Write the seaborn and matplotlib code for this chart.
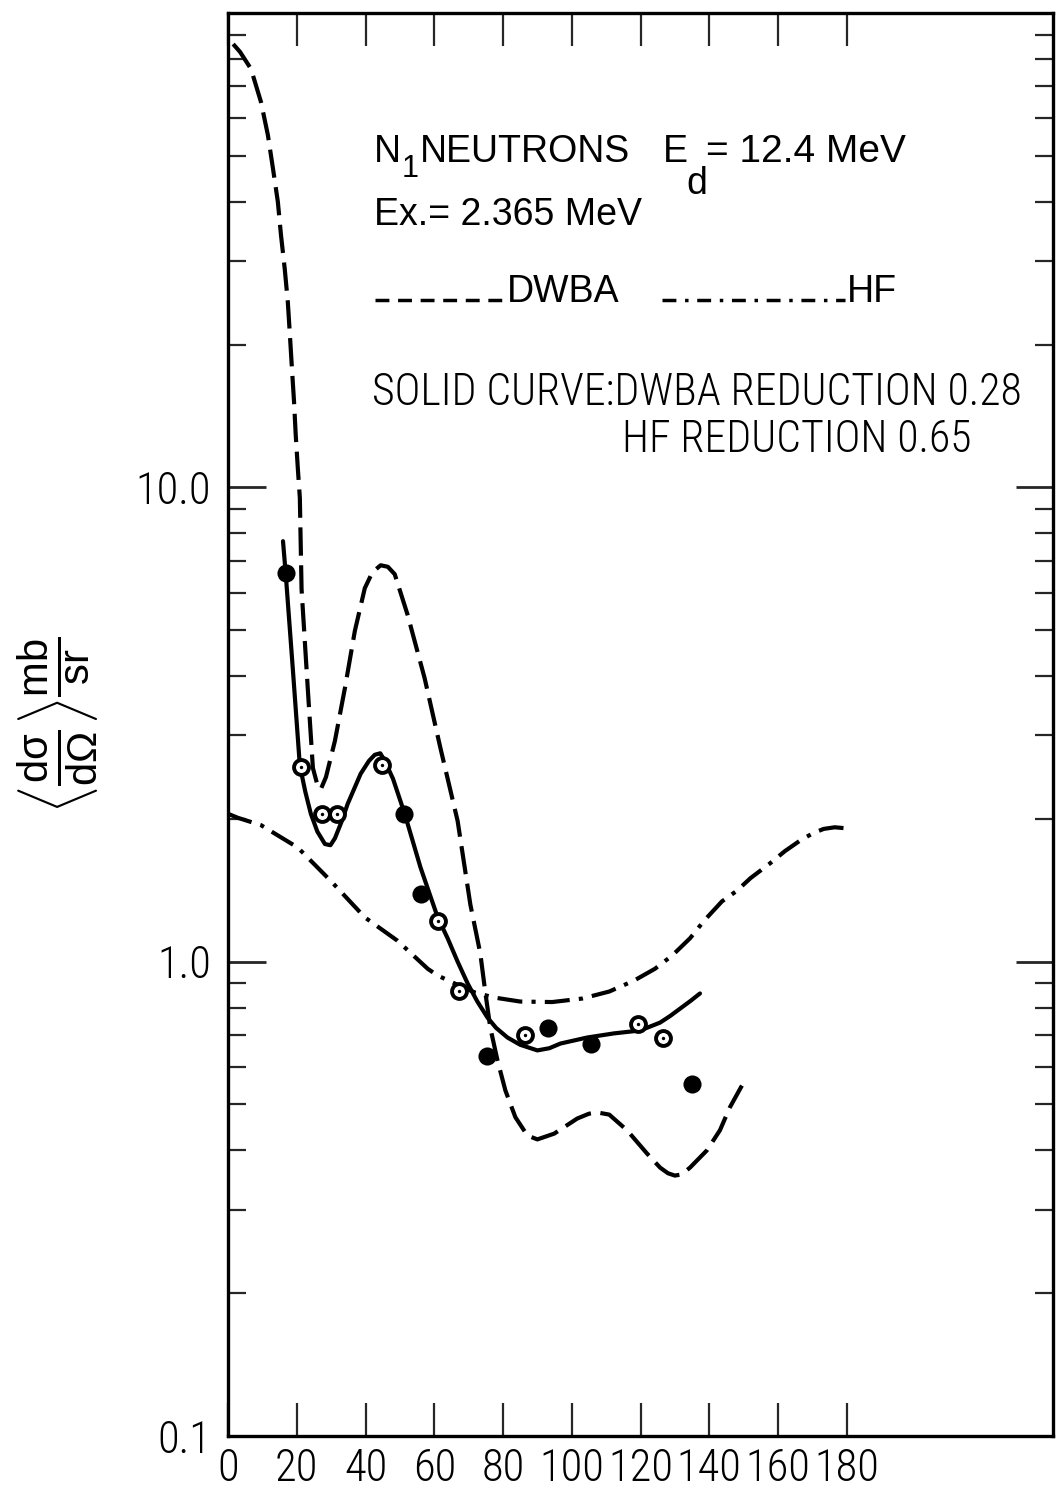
import numpy as np
import pandas as pd
import matplotlib
matplotlib.use("Agg")
import matplotlib.pyplot as plt
from matplotlib.lines import Line2D
from matplotlib.ticker import LogLocator, NullFormatter
from matplotlib import font_manager as fm
import seaborn as sns

# ---------------- data ----------------
dwba_angle = [1.5, 3.5, 6.7, 9.6, 11.6, 13.1, 14.5, 15.4, 16.5, 17.4, 18.0, 18.6,
              19.2, 19.7, 20.3, 20.9, 21.4, 23.2, 24.7, 26.0, 27.0, 28.5, 31.1,
              34.0, 36.9, 39.8, 42.0, 44.4, 46.5, 48.5, 52.2, 57.2, 61.8, 66.8,
              70.5, 73.4, 74.9, 76.3, 78.4, 80.7, 83.6, 87.1, 90.0, 94.9, 101.6,
              105.0, 107.4, 110.9, 116.1, 121.9, 125.7, 128.0, 130.0, 132.0, 134.4,
              139.3, 143.1, 146.0, 149.5]
dwba_value = [86.0, 82.8, 76.2, 64.9, 55.3, 46.9, 40.0, 34.1, 28.9, 24.6, 21.0, 17.8,
              15.2, 12.9, 11.0, 9.5, 6.1, 3.77, 2.56, 2.36, 2.31, 2.45, 2.92,
              3.77, 4.98, 6.13, 6.62, 6.85, 6.80, 6.56, 5.40, 3.96, 2.82, 1.98,
              1.32, 1.04, 0.857, 0.726, 0.619, 0.535, 0.470, 0.430, 0.422, 0.434,
              0.467, 0.478, 0.481, 0.476, 0.441, 0.394, 0.368, 0.358, 0.354, 0.356,
              0.368, 0.400, 0.441, 0.493, 0.548]

hf_angle = [0.0, 2.9, 9.6, 20.3, 29.9, 39.8, 49.3, 58.1, 61.0, 67.3, 72.0, 77.5,
            85.0, 94.3, 103.0, 110.9, 118.1, 124.2, 129.2, 134.4, 138.5, 143.7,
            148.0, 152.0, 157.6, 162.0, 166.9, 170.5, 173.3, 176.5, 180.0]
hf_value = [2.05, 2.01, 1.94, 1.74, 1.48, 1.24, 1.107, 0.966, 0.935, 0.89, 0.86,
            0.84, 0.824, 0.822, 0.836, 0.865, 0.912, 0.966, 1.03, 1.12, 1.22, 1.34,
            1.41, 1.50, 1.61, 1.71, 1.81, 1.87, 1.905, 1.92, 1.91]

fit_angle = [16.0, 16.8, 18.9, 20.9, 22.5, 24.1, 26.0, 28.2, 29.8, 31.1, 33.0,
             34.8, 38.6, 41.0, 42.7, 44.3, 45.6, 48.0, 51.4, 56.0, 61.0, 63.9,
             66.8, 69.7, 72.5, 75.5, 78.0, 81.3, 85.0, 90.0, 93.5, 96.7, 104.5,
             112.3, 119.9, 125.7, 128.6, 131.5, 134.5, 137.3]
fit_value = [7.70, 6.56, 4.10, 2.59, 2.28, 2.05, 1.88, 1.77, 1.76, 1.82, 1.97,
             2.15, 2.49, 2.65, 2.73, 2.75, 2.65, 2.43, 2.05, 1.58, 1.24, 1.12,
             1.00, 0.90, 0.825, 0.762, 0.725, 0.692, 0.668, 0.65, 0.657, 0.672, 0.692,
             0.706, 0.716, 0.744, 0.768, 0.796, 0.826, 0.857]

filled_angle = [16.8, 51.1, 56.0, 75.2, 93.2, 105.7, 135.0]
filled_value = [6.59, 2.05, 1.39, 0.634, 0.723, 0.672, 0.553]

open_angle = [21.2, 27.3, 31.6, 44.7, 61.0, 67.3, 86.5, 119.3, 126.6]
open_value = [2.57, 2.05, 2.05, 2.60, 1.22, 0.869, 0.699, 0.740, 0.692]

x_ticks = [0, 20, 40, 60, 80, 100, 120, 140, 160, 180]
x_tick_labels = ["0", "20", "40", "60", "80", "100", "120", "140", "160", "180"]
y_ticks = [0.1, 1.0, 10.0, 100.0]
y_tick_labels = ["0.1", "1.0", "10.0", ""]

# ---------------- style ----------------
sns.set_theme(style="ticks")
REG = ["Liberation Sans", "DejaVu Sans"]
plt.rcParams["font.family"] = REG
plt.rcParams["mathtext.fontset"] = "custom"
plt.rcParams["mathtext.rm"] = "Liberation Sans"
plt.rcParams["mathtext.it"] = "Liberation Sans"
plt.rcParams["mathtext.sf"] = "Liberation Sans"


def pick_condensed():
    cands = [("Liberation Sans Narrow", "normal"), ("Roboto Condensed", "normal"),
             ("Noto Sans", "condensed"), ("Open Sans", "condensed"),
             ("DejaVu Sans", "condensed"), ("Noto Sans Condensed", "normal"),
             ("Open Sans Condensed", "normal"), ("Roboto", "condensed")]
    for fam, st in cands:
        fp = fm.FontProperties(family=fam, stretch=st)
        try:
            path = fm.findfont(fp, fallback_to_default=False)
        except Exception:
            continue
        low = path.lower()
        if st == "condensed" and "condensed" not in low and "narrow" not in low:
            continue
        if "bold" in low or "italic" in low or "oblique" in low:
            continue
        # look for a lighter sibling (same family & stretch, light weight)
        entry = next((e for e in fm.fontManager.ttflist if e.fname == path), None)
        if entry is not None:
            lights = [e for e in fm.fontManager.ttflist
                      if e.name == entry.name and e.stretch == entry.stretch
                      and e.style == "normal" and isinstance(e.weight, int)
                      and 280 <= e.weight <= 320
                      and "italic" not in e.fname.lower()]
            if lights:
                path = lights[0].fname
        return fm.FontProperties(fname=path), True
    return fm.FontProperties(family="Liberation Sans"), False


COND, HAS_COND = pick_condensed()
tick_size = 32 if HAS_COND else 26
solid_size = 31.5 if HAS_COND else 25.5

W, H = 1057, 1493
fig = plt.figure(figsize=(W / 100, H / 100), dpi=100, facecolor="white")
ax = fig.add_axes([228 / W, 57 / H, 825 / W, 1423 / H])
ax.set_facecolor("white")

LW = 3.0
dwba_df = pd.DataFrame({"angle": dwba_angle, "value": dwba_value})
hf_df = pd.DataFrame({"angle": hf_angle, "value": hf_value})
fit_df = pd.DataFrame({"angle": fit_angle, "value": fit_value})

sns.lineplot(data=dwba_df, x="angle", y="value", ax=ax, sort=False, estimator=None,
             color="black", lw=LW)
ax.lines[-1].set_dashes((6.8, 2.3))
sns.lineplot(data=hf_df, x="angle", y="value", ax=ax, sort=False, estimator=None,
             color="black", lw=LW)
ax.lines[-1].set_dashes((6, 2.2, 1, 2.2))
sns.lineplot(data=fit_df, x="angle", y="value", ax=ax, sort=False, estimator=None,
             color="black", lw=LW)
for ln in ax.lines:
    ln.set_solid_joinstyle("round")
    ln.set_dash_joinstyle("round")

ax.scatter(filled_angle, filled_value, s=170, color="black", zorder=5, linewidths=0)
ax.scatter(open_angle, open_value, s=115, facecolor="white", edgecolor="black",
           linewidths=2.8, zorder=5)
ax.scatter(open_angle, open_value, s=6, color="black", zorder=6, linewidths=0)

ax.set_yscale("log")
ax.set_xlim(0, 240)
ax.set_ylim(0.1, 100)

ax.set_xticks(x_ticks, labels=x_tick_labels)
ax.set_yticks(y_ticks, labels=y_tick_labels)
ax.yaxis.set_minor_locator(LogLocator(base=10, subs=np.arange(2, 10)))
ax.yaxis.set_minor_formatter(NullFormatter())

ax.tick_params(axis="x", which="major", direction="in", length=24, width=1.6,
               top=True, bottom=True, pad=8)
ax.tick_params(axis="y", which="major", direction="in", length=27, width=2.0,
               left=True, right=True, pad=12)
ax.tick_params(axis="y", which="minor", direction="in", length=13, width=1.6,
               left=True, right=True)
for lab in ax.get_xticklabels() + ax.get_yticklabels():
    lab.set_fontproperties(COND)
    lab.set_fontsize(tick_size)
    lab.set_color("black")

for sp in ax.spines.values():
    sp.set_visible(True)
    sp.set_linewidth(2.4)
    sp.set_color("black")

ax.set_xlabel("")
ax.set_ylabel(r"$\left\langle\frac{\mathrm{d}\sigma}{\mathrm{d}\Omega}\right\rangle\frac{\mathrm{mb}}{\mathrm{sr}}$",
              fontsize=43, va="center", color="black")
ax.yaxis.set_label_coords(-0.205, 0.5)


# ---------------- annotations ----------------
def fx(x):
    return x / W


def fy(y):
    return 1 - y / H


def ftext(x, y, s, size, fp=None):
    if fp is None:
        fig.text(fx(x), fy(y), s, fontsize=size, family=REG, ha="left",
                 va="baseline", color="black")
    else:
        p = fp.copy()
        p.set_size(size)
        fig.text(fx(x), fy(y), s, fontproperties=p, ha="left", va="baseline",
                 color="black")


ftext(374, 162, "N", 27)
ftext(402, 177, "1", 22)
ftext(420, 162, "NEUTRONS", 27)
ftext(663, 162, "E", 27)
ftext(686, 194, "d", 27)
ftext(706, 162, "= 12.4 MeV", 28)
ftext(374, 225, "Ex.= 2.365 MeV", 27)

fig.add_artist(Line2D([fx(375), fx(505)], [fy(300), fy(300)], color="black", lw=2.5,
                      dashes=(4, 2.5)))
ftext(507, 302, "DWBA", 27)
fig.add_artist(Line2D([fx(662), fx(845)], [fy(300), fy(300)], color="black", lw=2.5,
                      dashes=(4, 2.5, 1, 2.5)))
ftext(847, 302, "HF", 27)

ftext(372, 405, "SOLID CURVE:DWBA REDUCTION 0.28", solid_size, COND)
ftext(622, 452, "HF REDUCTION 0.65", solid_size, COND)

fig.savefig("out.png", dpi=100, facecolor="white")
